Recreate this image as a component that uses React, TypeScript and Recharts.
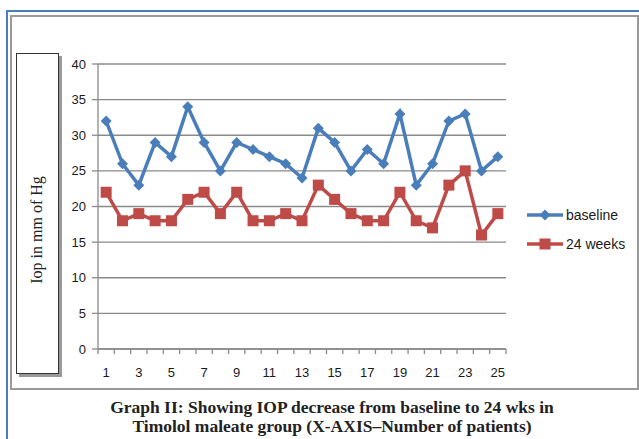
import { CartesianGrid, Line, LineChart, XAxis, YAxis } from "recharts";

// IOP (mm Hg) per patient, Timolol maleate group
const patients = [
  1, 2, 3, 4, 5, 6, 7, 8, 9, 10, 11, 12, 13, 14, 15, 16, 17, 18, 19, 20, 21,
  22, 23, 24, 25,
];
const baseline = [
  32, 26, 23, 29, 27, 34, 29, 25, 29, 28, 27, 26, 24, 31, 29, 25, 28, 26, 33,
  23, 26, 32, 33, 25, 27,
];
const weeks24 = [
  22, 18, 19, 18, 18, 21, 22, 19, 22, 18, 18, 19, 18, 23, 21, 19, 18, 18, 22,
  18, 17, 23, 25, 16, 19,
];
const yTicks = [0, 5, 10, 15, 20, 25, 30, 35, 40];

const BLUE = "#4A7EBB";
const RED = "#BE4B48";
const GRID = "#8A8A8A";
const FONT = "'Liberation Sans', Arial, sans-serif";
const SERIF = "'Liberation Serif', 'Times New Roman', serif";

const rows = patients.map((p, i) => ({
  patient: p,
  baseline: baseline[i],
  weeks24: weeks24[i],
}));

// tick marks sit between patients, labels on every other patient
const boundaries = [...patients.map((p) => p - 0.5), patients[patients.length - 1] + 0.5];
const xTicks = [...boundaries, ...patients].sort((a, b) => a - b);
const xDomain = [boundaries[0], boundaries[boundaries.length - 1]];

function PatientTick(props: any) {
  const { x, y, payload } = props;
  const v = payload.value as number;
  if (!Number.isInteger(v)) {
    return <line x1={x} x2={x} y1={y} y2={y + 5} stroke={GRID} strokeWidth={1.3} />;
  }
  if (v % 2 === 0) return <g />;
  return (
    <text x={x} y={y + 28} textAnchor="middle" fontSize={13} fontFamily={FONT} fill="#1a1a1a">
      {v}
    </text>
  );
}

function diamondPath(cx: number, cy: number, r: number) {
  return `M${cx},${cy - r}L${cx + r},${cy}L${cx},${cy + r}L${cx - r},${cy}Z`;
}

const renderDiamond = (p: any) => (
  <path key={`bd-${p.index}`} d={diamondPath(p.cx, p.cy, 5.5)} fill={BLUE} />
);

const renderSquare = (p: any) => (
  <rect
    key={`rs-${p.index}`}
    x={p.cx - 5.5}
    y={p.cy - 5.5}
    width={11}
    height={11}
    fill={RED}
  />
);

const series = [
  { key: "baseline", name: "baseline", color: BLUE, shape: "diamond" },
  { key: "weeks24", name: "24 weeks", color: RED, shape: "square" },
];

function LegendBox() {
  return (
    <div style={{ position: "absolute", left: 526, top: 200 }}>
      {series.map((s) => (
        <div
          key={s.key}
          style={{ display: "flex", alignItems: "center", height: 29, fontFamily: FONT, fontSize: 14, color: "#1a1a1a" }}
        >
          <svg width={38} height={14} style={{ marginRight: 2 }}>
            <line x1={1} x2={37} y1={7} y2={7} stroke={s.color} strokeWidth={3.5} />
            {s.shape === "diamond" ? (
              <path d={diamondPath(19, 7, 5.5)} fill={s.color} />
            ) : (
              <rect x={13.5} y={1.5} width={11} height={11} fill={s.color} />
            )}
          </svg>
          <span>{s.name}</span>
        </div>
      ))}
    </div>
  );
}

export default function App() {
  return (
    <div
      style={{
        position: "absolute",
        left: 0,
        top: 0,
        width: 639,
        height: 439,
        background: "#fff",
        overflow: "hidden",
      }}
    >
      {/* page frame */}
      <div style={{ position: "absolute", left: 6, top: 10, width: 640, height: 440, borderLeft: `2px solid ${BLUE}`, borderTop: `2px solid ${BLUE}` }} />
      <div style={{ position: "absolute", left: 10, top: 15, width: 625, height: 371, border: "2px solid #999" }} />

      {/* axis title box */}
      <div
        style={{
          position: "absolute",
          left: 16,
          top: 53,
          width: 41,
          height: 319,
          border: "1px solid #333",
          boxShadow: "3px 3px 0 #999",
          background: "#fff",
        }}
      />
      <div
        style={{
          position: "absolute",
          left: 37,
          top: 230,
          transform: "translate(-50%, -50%) rotate(-90deg)",
          whiteSpace: "nowrap",
          fontFamily: SERIF,
          fontSize: 16,
          color: "#222",
        }}
      >
        Iop in mm of Hg
      </div>

      <div style={{ position: "absolute", left: 0, top: 0 }}>
        <LineChart
          width={639}
          height={439}
          data={rows}
          margin={{ top: 64, right: 133, left: 58, bottom: 50 }}
        >
          <CartesianGrid vertical={false} stroke={GRID} strokeWidth={1.3} />
          <XAxis
            dataKey="patient"
            type="number"
            domain={xDomain}
            ticks={xTicks}
            interval={0}
            height={40}
            tickLine={false}
            tickSize={0}
            tickMargin={0}
            axisLine={{ stroke: GRID, strokeWidth: 1.3 }}
            tick={<PatientTick />}
            allowDataOverflow
          />
          <YAxis
            domain={[0, 40]}
            ticks={yTicks}
            width={40}
            tickSize={6}
            tickMargin={6}
            axisLine={{ stroke: GRID, strokeWidth: 1.3 }}
            tickLine={{ stroke: GRID, strokeWidth: 1.3 }}
            tick={{ fontSize: 13, fontFamily: FONT, fill: "#1a1a1a" }}
          />
          <Line
            dataKey="baseline"
            name="baseline"
            stroke={BLUE}
            strokeWidth={3.5}
            dot={renderDiamond}
            activeDot={false}
            isAnimationActive={false}
          />
          <Line
            dataKey="weeks24"
            name="24 weeks"
            stroke={RED}
            strokeWidth={3.5}
            dot={renderSquare}
            activeDot={false}
            isAnimationActive={false}
          />
        </LineChart>
      </div>

      <LegendBox />

      {/* caption */}
      <div
        style={{
          position: "absolute",
          left: 0,
          top: 398,
          width: 664,
          textAlign: "center",
          fontFamily: SERIF,
          fontWeight: "bold",
          fontSize: 17.5,
          lineHeight: "19px",
          color: "#222",
        }}
      >
        Graph II: Showing IOP decrease from baseline to 24 wks in
        <br />
        Timolol maleate group (X-AXIS–Number of patients)
      </div>
    </div>
  );
}
